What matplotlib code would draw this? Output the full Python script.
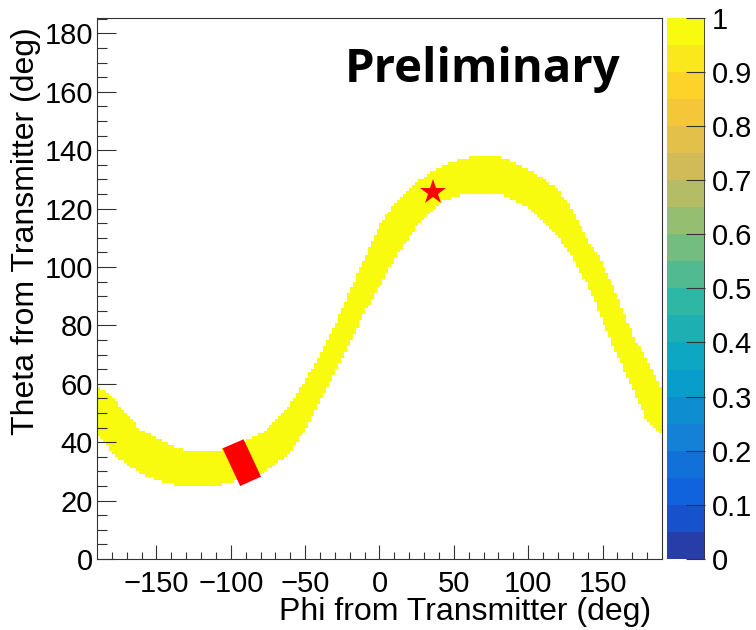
import numpy as np
import matplotlib
matplotlib.use("Agg")
import matplotlib.pyplot as plt
from matplotlib.colors import LinearSegmentedColormap, ListedColormap, Normalize
from matplotlib.patches import Polygon

# band edges (theta, deg) read every 10 deg of phi
phi_pts = np.arange(-190, 191, 10)
theta_lo = [43.0, 36.7, 32.2, 29.1, 27.1, 25.8, 24.8, 24.6, 25.0, 26.3,
            27.5, 28.8, 32.5, 36.2, 43.9, 54.3, 64.4, 74.1, 84.7, 93.4,
            102.3, 110.1, 117.0, 121.9, 124.1, 125.2, 125.2, 125.2, 123.2, 120.3,
            116.0, 110.4, 103.1, 93.6, 81.5, 70.0, 59.0, 47.1, 42.0]
theta_hi = [59.6, 55.5, 49.1, 43.9, 41.5, 39.0, 36.9, 36.7, 37.0, 38.3,
            40.5, 43.0, 47.0, 52.7, 61.3, 69.6, 80.3, 91.8, 103.4, 113.8,
            121.5, 126.5, 130.9, 134.1, 136.1, 137.6, 138.4, 137.7, 136.1, 133.8,
            130.4, 126.3, 119.5, 109.2, 101.2, 90.3, 77.2, 68.0, 58.0]

# receiver region and transmitter position
rx_phi = [-105.6, -91.4, -79.7, -93.7]
rx_theta = [37.9, 41.0, 28.2, 25.0]
tx_phi = 36.2
tx_theta = 125.8

# ROOT kBird palette
bird_r = [0.2082, 0.0592, 0.0780, 0.0232, 0.1802, 0.5301, 0.8186, 0.9956, 0.9764]
bird_g = [0.1664, 0.3599, 0.5041, 0.6419, 0.7178, 0.7492, 0.7328, 0.7862, 0.9832]
bird_b = [0.5293, 0.8684, 0.8385, 0.7914, 0.6425, 0.4662, 0.3499, 0.1968, 0.0539]
bird = LinearSegmentedColormap.from_list(
    "bird", list(zip(np.linspace(0, 1, 9), zip(bird_r, bird_g, bird_b))), N=255)
nlev = 20
lev_idx = [int((i + 0.99) * 255 / nlev) for i in range(nlev)]
cmap = ListedColormap([bird(min(k, 254) / 254) for k in lev_idx])
cmap.set_bad((1, 1, 1, 0))

# 2D histogram: 2 deg bins in phi, 1 deg bins in theta
xedges = np.arange(-190, 191, 2)
yedges = np.arange(0, 186, 1)
xc = 0.5 * (xedges[:-1] + xedges[1:])
yc = 0.5 * (yedges[:-1] + yedges[1:])
lo = np.interp(xc, phi_pts, theta_lo)
hi = np.interp(xc, phi_pts, theta_hi)
inband = (yc[:, None] >= lo[None, :]) & (yc[:, None] <= hi[None, :])
z = np.ma.masked_where(~inband, np.ones(inband.shape))

plt.rcParams["font.family"] = ["Liberation Sans", "DejaVu Sans"]

fig = plt.figure(figsize=(7.56, 6.3), dpi=100)
ax = fig.add_axes([97 / 756, 71 / 630, 565 / 756, 541.3 / 630])
cax = fig.add_axes([667 / 756, 71 / 630, 38 / 756, 541.3 / 630])

mesh = ax.pcolormesh(xedges, yedges, z, cmap=cmap, norm=Normalize(0, 1),
                     shading="flat", rasterized=True)
ax.add_patch(Polygon(np.column_stack([rx_phi, rx_theta]), closed=True,
                     facecolor="red", edgecolor="none", zorder=3))
ax.plot(tx_phi, tx_theta, marker="*", color="red", markersize=19,
        markeredgewidth=0, zorder=4)

ax.set_xlim(-190, 190)
ax.set_ylim(0, 185.4)
ax.set_xticks([-150, -100, -50, 0, 50, 100, 150])
ax.set_xticks(np.arange(-180, 190, 10), minor=True)
ax.set_yticks(np.arange(0, 181, 20))
ax.set_yticks(np.arange(0, 186, 5), minor=True)
ax.tick_params(axis="both", which="both", direction="in", top=False, right=False,
               labelsize=21, width=0.8, color="#333333")
ax.tick_params(axis="x", which="major", length=10, pad=8)
ax.tick_params(axis="x", which="minor", length=5)
ax.tick_params(axis="y", which="major", length=14, pad=3)
ax.tick_params(axis="y", which="minor", length=7)
for s in ax.spines.values():
    s.set_linewidth(0.8)
    s.set_color("#333333")

fig.text(651 / 756, 1 - 612 / 630, "Phi from Transmitter (deg)", fontsize=23,
         ha="right", va="center")
fig.text(26 / 756, 1 - 27 / 630, "Theta from Transmitter (deg)", fontsize=23,
         ha="center", va="top", rotation=90)

cb = fig.colorbar(mesh, cax=cax)
cb.outline.set_visible(False)
cb.set_ticks(np.arange(0, 1.01, 0.1))
cb.set_ticklabels(["0", "0.1", "0.2", "0.3", "0.4", "0.5", "0.6", "0.7", "0.8", "0.9", "1"])
cax.tick_params(direction="in", length=14, width=0.8, labelsize=21, pad=5, color="#333333")
cax.axvline(1, color="#333333", lw=1.2)

fig.text(345 / 756, 1 - 82 / 630, "Preliminary", fontsize=34, fontweight="bold",
         family="Open Sans", ha="left", va="baseline")

fig.savefig("out.png", dpi=100)
